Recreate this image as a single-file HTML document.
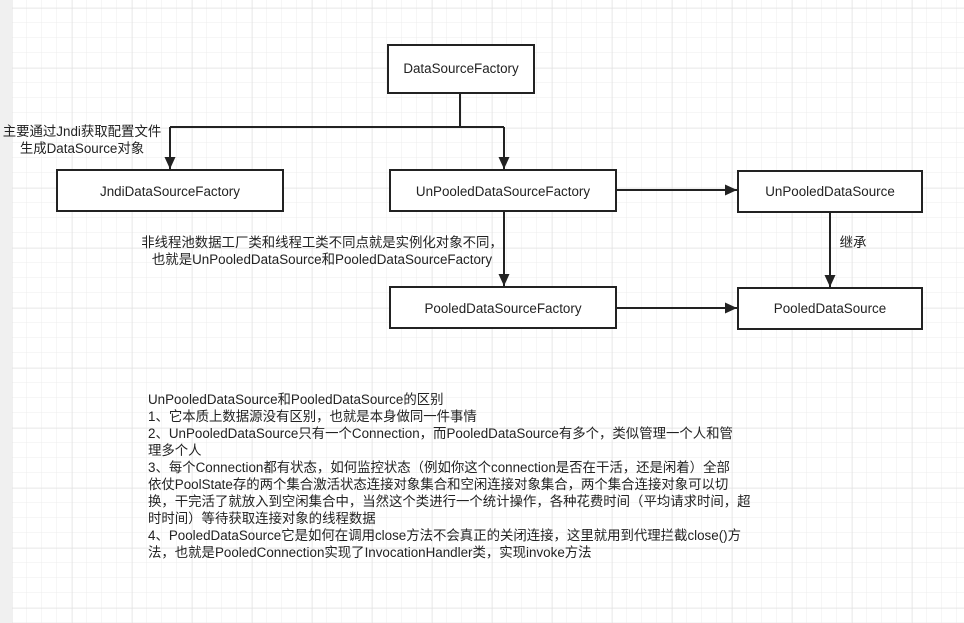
<!DOCTYPE html>
<html><head><meta charset="utf-8"><style>
body{margin:0;width:964px;height:623px;overflow:hidden;background:#fff;font-family:"Liberation Sans","Noto Sans CJK SC",sans-serif;}
</style></head><body>
<svg width="964" height="623" xmlns="http://www.w3.org/2000/svg" style="position:absolute;left:0;top:0">
<defs>
<pattern id="g" x="12" y="8" width="15" height="15" patternUnits="userSpaceOnUse"><path d="M15 0V15M0 15H15" fill="none" stroke="#ececec" stroke-width="1"/></pattern>
<pattern id="G" x="12" y="8" width="60" height="60" patternUnits="userSpaceOnUse"><path d="M0 0V60M0 0H60" fill="none" stroke="#e0e0e0" stroke-width="1"/></pattern>
<marker id="a" markerWidth="14" markerHeight="14" refX="12" refY="6" orient="auto" markerUnits="userSpaceOnUse"><path d="M0 0.5L12 6L0 11.5z" fill="#222"/></marker>
</defs>
<rect x="12" y="0" width="952" height="623" fill="url(#g)"/>
<rect x="12" y="0" width="952" height="623" fill="url(#G)"/>
<rect x="0" y="0" width="12" height="623" fill="#f0f0f0"/>
<g fill="none" stroke="#222" stroke-width="2">
<path d="M460 93V127M170 127H504"/>
<path d="M170 127V169" marker-end="url(#a)"/>
<path d="M504 127V169" marker-end="url(#a)"/>
<path d="M617 190H737" marker-end="url(#a)"/>
<path d="M504 212V286" marker-end="url(#a)"/>
<path d="M617 308H737" marker-end="url(#a)"/>
<path d="M830 212V287" marker-end="url(#a)"/>
</g>
<g fill="#fff" stroke="#222" stroke-width="2">
<rect x="388" y="45" width="146" height="48"/>
<rect x="57" y="170" width="226" height="41"/>
<rect x="390" y="170" width="226" height="41"/>
<rect x="738" y="171" width="184" height="41"/>
<rect x="390" y="287" width="226" height="41"/>
<rect x="738" y="288" width="184" height="41"/>
</g>
<g font-size="13.4" fill="#222" text-anchor="middle" font-family="Liberation Sans,Noto Sans CJK SC,sans-serif">
<text x="461" y="73">DataSourceFactory</text>
<text x="170" y="196">JndiDataSourceFactory</text>
<text x="503" y="196">UnPooledDataSourceFactory</text>
<text x="830" y="196">UnPooledDataSource</text>
<text x="503" y="313">PooledDataSourceFactory</text>
<text x="830" y="313">PooledDataSource</text>
<text x="82" y="136">主要通过Jndi获取配置文件</text>
<text x="82" y="153">生成DataSource对象</text>
<text x="853" y="247">继承</text>
<text x="322" y="247">非线程池数据工厂类和线程工类不同点就是实例化对象不同，</text>
<text x="322" y="264">也就是UnPooledDataSource和PooledDataSourceFactory</text>
</g>
<g font-size="13.4" fill="#222" font-family="Liberation Sans,Noto Sans CJK SC,sans-serif">
<text x="148" y="404">UnPooledDataSource和PooledDataSource的区别</text>
<text x="148" y="421">1、它本质上数据源没有区别，也就是本身做同一件事情</text>
<text x="148" y="438">2、UnPooledDataSource只有一个Connection，而PooledDataSource有多个，类似管理一个人和管</text>
<text x="148" y="455">理多个人</text>
<text x="148" y="472">3、每个Connection都有状态，如何监控状态（例如你这个connection是否在干活，还是闲着）全部</text>
<text x="148" y="489">依仗PoolState存的两个集合激活状态连接对象集合和空闲连接对象集合，两个集合连接对象可以切</text>
<text x="148" y="506">换，干完活了就放入到空闲集合中，当然这个类进行一个统计操作，各种花费时间（平均请求时间，超</text>
<text x="148" y="523">时时间）等待获取连接对象的线程数据</text>
<text x="148" y="540">4、PooledDataSource它是如何在调用close方法不会真正的关闭连接，这里就用到代理拦截close()方</text>
<text x="148" y="557">法，也就是PooledConnection实现了InvocationHandler类，实现invoke方法</text>
</g>
</svg>
</body></html>
